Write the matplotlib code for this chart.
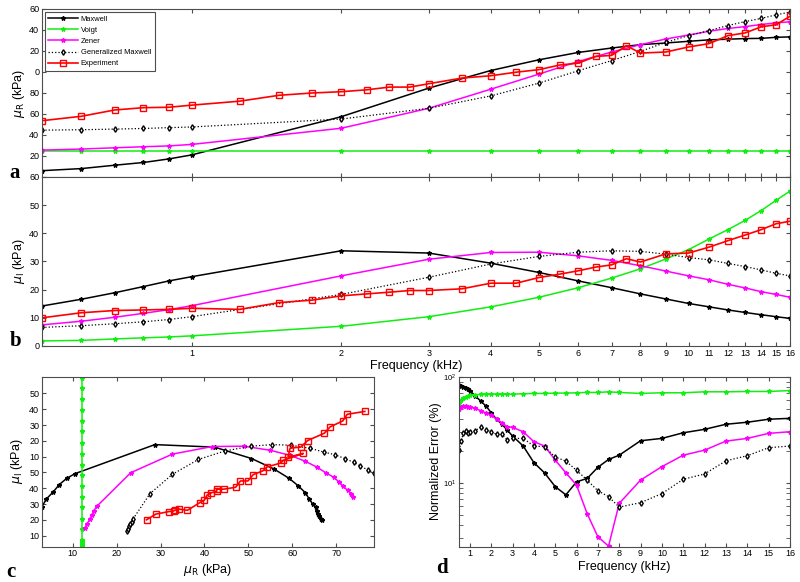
import matplotlib
matplotlib.use('Agg')
import matplotlib.pyplot as plt
from matplotlib.ticker import NullLocator

plt.rcParams['font.family'] = ['Liberation Sans', 'DejaVu Sans']

# frequencies (kHz)
model_freq = [0.5, 0.6, 0.7, 0.8, 0.9, 1, 2, 3, 4, 5, 6, 7, 8, 9, 10, 11, 12, 13, 14, 15, 16]
exp_freq = [0.5, 0.6, 0.7, 0.8, 0.9, 1.0, 1.25, 1.5, 1.75, 2.0, 2.25, 2.5, 2.75, 3.0, 3.5, 4.0,
            4.5, 5.0, 5.5, 6.0, 6.5, 7.0, 7.5, 8.0, 9, 10, 11, 12, 13, 14, 15, 16]

# storage modulus mu_R (kPa)
maxwell_re = [3.0, 4.0, 5.6, 6.9, 8.6, 10.5, 28.7, 42.3, 50.7, 55.8, 59.3, 61.4, 63.0, 63.8,
              64.6, 65.3, 65.6, 65.9, 66.0, 66.5, 66.7]
voigt_re = [12.2, 12.2, 12.2, 12.2, 12.2, 12.2, 12.2, 12.2, 12.2, 12.2, 12.2, 12.2, 12.2, 12.2,
            12.2, 12.2, 12.2, 12.2, 12.2, 12.2, 12.2]
zener_re = [12.8, 13.3, 13.9, 14.4, 14.8, 15.5, 23.2, 32.7, 41.8, 49.0, 55.0, 59.5, 63.0, 65.7,
            67.6, 69.4, 70.7, 71.6, 72.6, 73.4, 73.9]
genmax_re = [22.3, 22.5, 22.8, 23.1, 23.5, 23.8, 27.6, 32.7, 38.6, 44.7, 50.6, 55.4, 59.8, 64.1,
             67.3, 69.7, 72.1, 74.0, 75.5, 77.2, 78.5]
exp_re = [26.8, 28.9, 31.9, 33.0, 33.2, 34.2, 36.1, 38.9, 40.0, 40.6, 41.5, 42.8, 42.8, 44.4,
          47.1, 48.2, 49.9, 51.1, 53.3, 54.2, 57.4, 57.9, 62.5, 59.0, 59.5, 61.9, 63.5, 67.3,
          68.6, 71.5, 72.5, 76.5]

# loss modulus mu_I (kPa)
maxwell_im = [14.2, 16.6, 18.9, 21.1, 23.1, 24.6, 33.8, 33.0, 29.4, 26.1, 23.1, 20.7, 18.5, 16.7,
              15.1, 13.9, 12.8, 11.9, 11.1, 10.4, 9.8]
voigt_im = [1.8, 2.0, 2.5, 2.9, 3.2, 3.6, 7.0, 10.4, 13.9, 17.3, 20.7, 24.1, 27.4, 30.9,
            34.2, 38.0, 41.3, 44.6, 48.1, 51.7, 55.0]
zener_im = [7.5, 8.8, 10.2, 11.6, 12.9, 14.3, 24.9, 30.8, 33.2, 33.3, 32.0, 30.4, 28.5, 26.6,
            24.9, 23.5, 21.9, 20.6, 19.3, 18.3, 17.3]
genmax_im = [6.6, 7.2, 7.9, 8.6, 9.4, 10.4, 18.3, 24.4, 29.1, 31.8, 33.3, 33.8, 33.6, 32.6,
             31.4, 30.6, 29.3, 28.2, 27.0, 25.8, 24.9]
exp_im = [10.0, 11.8, 12.6, 12.8, 13.0, 13.4, 13.0, 15.4, 16.3, 17.8, 18.5, 19.1, 19.7, 19.7,
          20.3, 22.3, 22.3, 24.3, 25.5, 26.7, 28.0, 28.8, 31.0, 29.8, 32.7, 33.0, 35.1, 37.4,
          39.4, 41.3, 43.4, 44.3]

# normalized error (%)
err_maxwell = [83.5, 81.6, 79.4, 77.6, 76.0, 73.8, 66.0, 59.0, 53.0, 45.8, 39.6, 35.6, 31.4, 27.6,
               22.2, 15.5, 12.4, 9.2, 7.7, 10.2, 11.0, 14.0, 16.6, 18.2, 24.9, 26.2, 29.6, 31.9,
               35.6, 37.2, 39.7, 40.5]
err_voigt = [57.0, 60.0, 63.0, 65.0, 66.0, 67.0, 67.5, 68.0, 68.0, 68.5, 68.5, 68.5, 68.0, 68.5,
             69.0, 69.5, 69.5, 70.0, 70.0, 70.5, 71.0, 71.0, 72.0, 71.0, 69.5, 70.5, 70.5, 72.0,
             72.0, 72.5, 72.5, 74.0]
err_zener = [49.2, 51.4, 53.0, 53.0, 52.2, 51.4, 50.4, 47.8, 45.5, 43.5, 39.7, 36.8, 33.8, 33.3,
             30.3, 24.4, 22.2, 16.4, 12.4, 9.5, 5.1, 3.1, 2.53, 6.4, 10.6, 14.2, 18.2, 20.3,
             24.7, 26.2, 29.2, 30.3]
err_genmax = [20.3, 24.9, 29.6, 30.8, 29.6, 30.3, 31.0, 33.4, 31.4, 30.3, 28.6, 28.8, 25.3, 26.2,
              26.2, 22.2, 21.9, 17.5, 16.0, 13.1, 10.6, 8.4, 7.4, 5.9, 6.5, 7.9, 10.8, 12.1,
              16.1, 18.0, 21.4, 22.2]

freq_ticks = [1, 2, 3, 4, 5, 6, 7, 8, 9, 10, 11, 12, 13, 14, 15, 16]
a_ticks = [0, 10, 20, 30, 40, 50, 60, 70, 80]
a_ticklabels = ['', '20', '40', '60', '80', '0', '20', '40', '60']
c_yticks = [5, 10, 15, 20, 25, 30, 35, 40, 45, 50]
c_yticklabels = ['10', '20', '30', '40', '50', '10', '20', '30', '40', '50']

styles = {
    'Maxwell': dict(color='black', ls='-', marker='*', ms=3.2, lw=1.1),
    'Voigt': dict(color='#11ee11', ls='-', marker='*', ms=3.2, lw=1.1),
    'Zener': dict(color='#ff00ff', ls='-', marker='*', ms=3.2, lw=1.1),
    'Generalized Maxwell': dict(color='black', ls=':', marker='d', ms=2.8, lw=0.9, mfc='white'),
    'Experiment': dict(color='red', ls='-', marker='s', ms=4, lw=1.2, mfc='none'),
}


def style_axes(ax):
    for sp in ax.spines.values():
        sp.set_color('0.3')
        sp.set_linewidth(0.8)
    ax.tick_params(which='both', direction='in', top=True, right=True, labelsize=6.5,
                   length=3, color='0.3', pad=2)


fig = plt.figure(figsize=(8, 5.82), dpi=100)

# panel a
ax_a = fig.add_axes([0.0525, 0.6959, 0.935, 0.2887])
ax_a.plot(model_freq, maxwell_re, label='Maxwell', **styles['Maxwell'])
ax_a.plot(model_freq, voigt_re, label='Voigt', **styles['Voigt'])
ax_a.plot(model_freq, zener_re, label='Zener', **styles['Zener'])
ax_a.plot(model_freq, genmax_re, label='Generalized Maxwell', **styles['Generalized Maxwell'])
ax_a.plot(exp_freq, exp_re, label='Experiment', **styles['Experiment'])
ax_a.set_xscale('log', base=2)
ax_a.set_xlim(0.5, 16)
ax_a.set_ylim(0, 80)
ax_a.set_xticks(freq_ticks)
ax_a.set_xticklabels([])
ax_a.xaxis.set_minor_locator(NullLocator())
ax_a.set_yticks(a_ticks)
ax_a.set_yticklabels(a_ticklabels)
ax_a.set_ylabel(r'$\mu_{\rm R}$ (kPa)', fontsize=9)
ax_a.yaxis.set_label_coords(-0.020, 0.5)
style_axes(ax_a)
leg = ax_a.legend(loc='upper left', fontsize=5.4, fancybox=False, framealpha=1,
                  edgecolor='0.3', handlelength=4.0, borderaxespad=0.4, labelspacing=0.53,
                  borderpad=0.45, handletextpad=0.3)
leg.get_frame().set_linewidth(0.8)

# panel b
ax_b = fig.add_axes([0.0525, 0.4055, 0.935, 0.2904])
ax_b.plot(model_freq, maxwell_im, **styles['Maxwell'])
ax_b.plot(model_freq, voigt_im, **styles['Voigt'])
ax_b.plot(model_freq, zener_im, **styles['Zener'])
ax_b.plot(model_freq, genmax_im, **styles['Generalized Maxwell'])
ax_b.plot(exp_freq, exp_im, **styles['Experiment'])
ax_b.set_xscale('log', base=2)
ax_b.set_xlim(0.5, 16)
ax_b.set_ylim(0, 60)
ax_b.set_xticks(freq_ticks)
ax_b.set_xticklabels([str(t) for t in freq_ticks])
ax_b.xaxis.set_minor_locator(NullLocator())
ax_b.set_yticks([0, 10, 20, 30, 40, 50, 60])
ax_b.set_ylabel(r'$\mu_{\rm I}$ (kPa)', fontsize=9)
ax_b.yaxis.set_label_coords(-0.020, 0.5)
ax_b.set_xlabel('Frequency (kHz)', fontsize=9)
ax_b.xaxis.set_label_coords(0.5, -0.085)
style_axes(ax_b)

# panel c
ax_c = fig.add_axes([0.0525, 0.0607, 0.415, 0.2921])
ax_c.plot(maxwell_re, maxwell_im, **styles['Maxwell'])
ax_c.plot(voigt_re, voigt_im, **styles['Voigt'])
ax_c.plot(zener_re, zener_im, **styles['Zener'])
ax_c.plot(genmax_re, genmax_im, **styles['Generalized Maxwell'])
ax_c.plot(exp_re, exp_im, **styles['Experiment'])
ax_c.set_xlim(3.0, 78.6)
ax_c.set_ylim(1.5, 55.3)
ax_c.set_xticks([10, 20, 30, 40, 50, 60, 70])
ax_c.set_yticks(c_yticks)
ax_c.set_yticklabels(c_yticklabels)
ax_c.set_xlabel(r'$\mu_{\rm R}$ (kPa)', fontsize=9)
ax_c.xaxis.set_label_coords(0.5, -0.09)
ax_c.set_ylabel(r'$\mu_{\rm I}$ (kPa)', fontsize=9)
ax_c.yaxis.set_label_coords(-0.051, 0.5)
style_axes(ax_c)

# panel d
ax_d = fig.add_axes([0.574, 0.0607, 0.4134, 0.2921])
ax_d.plot(exp_freq, err_maxwell, **styles['Maxwell'])
ax_d.plot(exp_freq, err_voigt, **styles['Voigt'])
ax_d.plot(exp_freq, err_zener, **styles['Zener'])
ax_d.plot(exp_freq, err_genmax, **styles['Generalized Maxwell'])
ax_d.set_yscale('log')
ax_d.set_xlim(0.5, 16)
ax_d.set_ylim(2.5, 100)
ax_d.set_xticks(freq_ticks)
ax_d.set_xlabel('Frequency (kHz)', fontsize=9)
ax_d.xaxis.set_label_coords(0.5, -0.085)
ax_d.set_ylabel('Normalized Error (%)', fontsize=9)
ax_d.yaxis.set_label_coords(-0.052, 0.5)
style_axes(ax_d)
ax_d.tick_params(axis='y', which='major', labelsize=5.5)
ax_d.tick_params(axis='y', which='minor', labelleft=False)

for txt, x, y in [('a', 0.012, 0.695), ('b', 0.012, 0.405), ('c', 0.008, 0.008), ('d', 0.545, 0.015)]:
    fig.text(x, y, txt, family='Liberation Serif', fontsize=15, fontweight='bold')

fig.savefig('out.png', dpi=100)
